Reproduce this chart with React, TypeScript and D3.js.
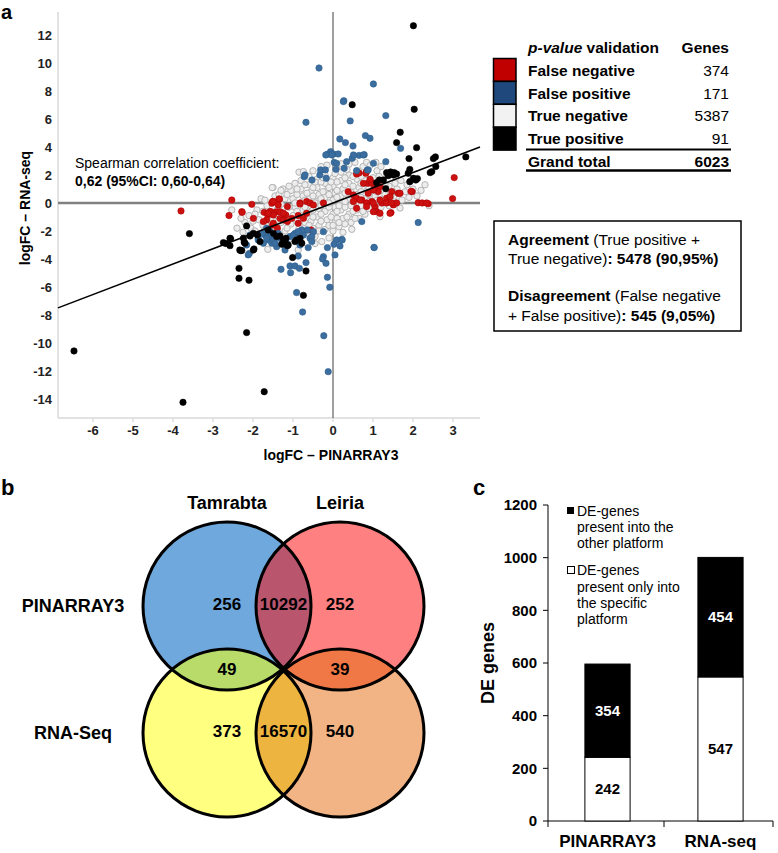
import React from "react";
import * as d3 from "d3";

type Pt = [number, number];

const FONT = "'Liberation Sans', Arial, Helvetica, sans-serif";

// ---------- Panel a data ----------
const xTicksA = [-6, -5, -4, -3, -2, -1, 0, 1, 2, 3];
const yTicksA = [12, 10, 8, 6, 4, 2, 0, -2, -4, -6, -8, -10, -12, -14];
const regSlope = 1.09;
const regIntercept = 0;

const greyPts: Pt[] = [
  [-2.2, -1.4], [-2.1, -0.9], [-2.05, -1.8], [-1.9, -0.5], [-1.85, -1.2], [-1.95, -2.0], [-1.8, 0.3],
  [-1.65, -0.2], [-1.6, -1.0], [-1.55, -1.6], [-1.5, 1.1], [-1.7, 0.2], [-1.6, -2.3], [-1.45, 0.5],
  [-1.35, 0.6], [-1.3, -0.1], [-1.25, -0.7], [-1.3, -1.4], [-1.2, -2.0], [-1.25, 1.0], [-1.35, -2.6],
  [-1.05, 0.9], [-1.0, 0.3], [-0.95, -0.3], [-1.0, -0.9], [-1.05, -1.5], [-0.95, 1.4], [-0.9, -2.1], [-1.1, -2.6],
  [-0.8, 1.6], [-0.8, 1.0], [-0.75, 0.5], [-0.8, 0.0], [-0.75, -0.5], [-0.8, -1.2], [-0.7, -1.7], [-0.8, -2.8], [-0.85, 2.2],
  [-0.6, 1.9], [-0.6, 1.3], [-0.55, 0.8], [-0.6, 0.3], [-0.55, -0.2], [-0.6, -0.7], [-0.55, -1.3], [-0.6, -2.2], [-0.5, 2.3],
  [-0.4, 1.7], [-0.4, 1.1], [-0.35, 0.6], [-0.4, 0.1], [-0.35, -0.4], [-0.4, -1.0], [-0.35, -1.6], [-0.45, -2.4], [-0.3, 2.6],
  [-0.2, 2.0], [-0.2, 1.4], [-0.15, 0.9], [-0.2, 0.4], [-0.15, -0.1], [-0.2, -0.6], [-0.15, -1.2], [-0.2, -1.9], [-0.1, -2.5],
  [0.0, 1.8], [0.0, 1.2], [0.05, 0.7], [0.0, 0.2], [0.05, -0.3], [0.0, -0.8], [0.05, -1.4], [0.0, -2.0], [0.1, 2.4],
  [0.2, 2.2], [0.2, 1.6], [0.25, 1.0], [0.2, 0.5], [0.25, 0.0], [0.2, -0.5], [0.25, -1.1], [0.15, -1.7],
  [0.4, 2.0], [0.4, 1.4], [0.45, 0.8], [0.4, 0.3], [0.45, -0.2], [0.4, -0.8], [0.45, -1.4], [0.47, -1.88],
  [0.6, 2.3], [0.6, 1.7], [0.65, 1.1], [0.6, 0.6], [0.65, 0.0], [0.6, -0.5], [0.65, -1.1],
  [0.8, 2.0], [0.8, 1.4], [0.85, 0.9], [0.8, 0.3], [0.85, -0.3], [0.8, -0.8], [0.75, 2.6],
  [1.0, 1.8], [1.0, 1.2], [1.05, 0.5], [1.0, 0.0], [1.05, -0.5], [1.1, 2.3],
  [1.2, 1.5], [1.2, 0.9], [1.25, 0.3], [1.175, -0.98], [1.2, -0.3],
  [1.4, 1.2], [1.45, 0.5], [1.4, -0.2], [1.35, 2.0],
  [1.6, 1.0], [1.65, 0.3], [1.675, -0.36], [1.7, 1.6],
  [1.8, 0.8], [1.725, 0.21], [1.85, 1.3], [2.0, 1.0], [2.1, 0.5],
  [-1.52, 1.1], [-0.74, 2.24], [0.55, 2.9], [0.4, 2.76], [0.84, 2.9], [1.07, 2.9], [0.925, 2.67],
  [-1.63, -3.31], [-0.87, -3.36], [-0.28, -2.76], [-2.53, -0.5], [2.4, -0.2],
  [-0.9, 0.6], [-0.7, 0.2], [-0.5, 0.5], [-0.3, 0.3], [-0.1, 0.6], [0.1, 0.4], [0.3, 0.7], [0.5, 0.4], [0.7, 0.8], [0.9, 0.6],
  [-0.9, -0.6], [-0.7, -0.9], [-0.5, -0.5], [-0.3, -0.8], [-0.1, -0.3], [0.1, -0.6], [0.3, -0.3], [0.5, 0.1], [0.7, -0.2], [0.9, 0.1],
  [-0.5, 1.1], [-0.3, 1.5], [-0.1, 1.1], [0.1, 1.5], [0.3, 1.3], [0.5, 1.9], [0.7, 1.4],
  [-0.7, -1.4], [-0.5, -1.8], [-0.3, -1.3], [-0.1, -1.6], [0.1, -1.1], [0.3, -1.5], [1.1, 0.8], [1.3, 0.1],
  [-1.1, -0.3], [-1.2, 0.3], [-1.4, -0.5], [-1.5, -1.2], [-1.1, -1.1],
  [-2.3, -1.1], [-2.0, -1.3], [-1.95, -0.8], [-1.75, -1.6], [-1.75, -0.6], [-1.7, -1.9], [-1.45, -1.9], [-1.4, -0.9],
  [-1.4, 0.1], [-1.3, 0.9], [-1.15, -1.8], [-1.15, 0.6], [-1.1, 1.2], [-0.95, 0.0], [-0.9, -1.3], [-0.9, 1.0],
  [-0.85, -1.8], [-0.7, 1.3], [-0.7, -0.3], [-0.65, 0.7], [-0.65, -2.0], [-0.5, -1.0], [-0.45, 0.0], [-0.45, 1.5],
  [-0.35, -2.0], [-0.3, -0.2], [-0.25, 0.8], [-0.25, 1.8], [-0.1, 0.0], [-0.05, 1.5], [-0.05, -1.0], [0.05, 2.1],
  [0.1, 0.9], [0.15, -0.2], [0.15, -1.4], [0.3, 0.1], [0.3, 1.8], [0.35, -1.0], [0.35, 2.4], [0.5, -0.6], [0.5, 1.2],
  [0.55, -1.1], [0.7, 0.4], [0.7, 1.9], [0.75, -0.6], [0.9, 1.1], [0.9, -0.4], [0.95, 1.6], [1.1, 0.2], [1.15, 1.9],
  [1.3, 0.6], [1.3, 1.3], [1.5, 0.1], [1.5, 0.8], [1.55, 1.4], [1.9, 0.4], [1.95, 1.6], [2.2, 0.9], [2.3, 1.3],
  [-0.6, -1.6], [0.0, -1.6], [0.25, -2.1], [-0.45, -2.9], [1.2, 2.6], [0.2, 2.8], [-0.15, 2.7], [-2.4, -1.8], [-2.25, -2.1]
];

const redPts: Pt[] = [
  [3.03, 1.81], [2.99, 0.31], [1.98, 0.81], [2.13, 0.02], [2.23, 0], [2.38, -0.05], [1.47, 0.81], [1.63, 0.69],
  [0.97, 1.45], [1.07, 1.12], [1.18, 1.17], [0.59, 2.07], [0.65, 2.14], [0.84, 2.24], [-2.03, -0.1], [-2.28, -0.62],
  [-1.51, 0.1], [-1.34, 0.26], [-1.575, -0.62], [-1.41, -0.62], [-0.66, 0.1], [-0.575, 0], [1.45, -0.69],
  [-2.53, 0.21], [-2.27, -0.67], [-2.6, -0.9], [-1.99, -1.1], [-1.72, -0.67], [-1.63, -0.86], [-1.66, -1.21],
  [-1.55, -0.62], [-1.49, -0.86], [-1.325, -0.62], [-1.35, 0.29], [-1.53, -0.02], [-1.39, -1.81], [-1.51, -1.57],
  [-1.325, -1.1], [-1.24, -1.21], [-1.18, -0.86], [-1.14, -1.33], [-1.14, -0.26], [-0.825, 0], [-0.49, -0.14],
  [-0.66, -0.74], [-0.87, -0.9], [-0.55, -1.93], [-1.03, -1.1], [0.82, 2.12], [0.87, 1.4], [0.51, 0.57], [0.59, 0.34],
  [0.72, 0.21], [0.84, 0], [0.97, 0.1], [1.05, -0.26], [1.22, 0], [1.09, -0.62], [1.34, 0.34], [1.51, -0.14],
  [1.675, 0.69], [1.95, 0.83], [1.425, -0.74], [0.51, 0.1], [0.38, 0.81], [0.88, 0.69], [1.13, 0.81], [1.01, -0.62],
  [0.97, 1.4], [-3.8, -0.57], [0.925, 1.69], [0.76, 1.4], [1.01, 0.93], [1.175, 0.21], [1.425, 0.45], [1.59, 0],
  [2.34, 0], [0.84, -0.26], [0.675, 0.21], [-1.49, 0.1], [-1.37, -0.14], [-1.62, -0.74], [-1.24, -0.74],
  [-1.74, -1.33], [-1.49, -1.45], [-0.825, -0.07], [-0.24, 0], [-0.74, -1.1], [-0.87, -1.45], [1.34, 0], [1.47, 0],
  [1.01, 0], [1.175, -0.74], [0.59, -0.38]
];

const bluePts: Pt[] = [
  [-0.35, 9.64], [1.01, 8.5], [0.27, 7.3], [0.26, 7.24], [-0.675, 5.76], [0.43, 5.86], [1.32, 6.24], [0.81, 4.81],
  [0.925, 4.62], [0.17, 4.57], [0.31, 4.31], [0.5, 4.07], [1.69, 3.9], [-0.06, 3.67], [-0.14, 3.48], [0.01, 3.5],
  [0.13, 3.5], [0.65, 3.4], [0.78, 3.45], [0.48, 3.19], [0.03, 2.9], [0.09, 2.83], [1.32, 2.95], [-0.17, 1.76],
  [-0.33, 2.0], [-0.31, 2.36], [-0.72, 1.88], [-0.525, 1.64], [-0.19, 2.36], [0.075, 2.4], [0.28, 2.48], [0.59, 2.31],
  [0.86, 2.36], [-0.7, 2.0], [-0.18, 3.43], [-0.03, 3.43], [0.34, 2.95], [0.51, 3.43], [0.76, 3.43], [1.01, 2.83],
  [0.88, 2.36],
  [-1.87, -2.52], [-1.7, -2.29], [-1.62, -2.64], [-1.53, -2.88], [-1.74, -2.88], [-1.41, -3.12], [-1.66, -1.81],
  [-1.575, -2.05], [-1.37, -2.17], [-2.16, -3.0], [-2.09, -3.6], [-1.2, -3.36], [-1.16, -2.88], [-1.075, -2.4],
  [-0.95, -2.17], [-0.825, -3.0], [-0.74, -2.29], [-0.575, -2.52], [-0.49, -2.05], [-0.64, -1.93], [-0.78, -1.93],
  [0.09, -2.64], [0.22, -2.6], [0.05, -3.71], [1.025, -3.17], [-0.24, -3.83], [0.72, -1.33], [2.13, -1.4],
  [-2.12, -3.71], [-1.3, -4.74], [-1.075, -4.5], [-0.95, -4.5], [-1.06, -4.98], [-0.84, -4.67], [-0.675, -4.26],
  [-0.87, -3.79], [-0.91, -6.4], [-0.76, -7.79], [-0.14, -5.31], [-0.08, -6.02], [-0.26, -4.0], [-0.175, -4.31],
  [-0.23, -9.48], [-0.12, -12.05], [-0.14, -3.19], [0.025, -2.95], [0.175, -3.07], [0.23, -2.64], [-0.62, -3.19],
  [1.03, -3.19], [-1.78, -2.17], [-1.575, -2.29], [-1.66, -2.52], [-1.49, -2.64], [-1.45, -2.88], [-1.325, -2.52],
  [-0.99, -2.29], [-0.87, -2.05], [-0.53, -2.4], [-0.53, -2.76], [-0.24, -2.05], [-2.075, -2.29], [-1.87, -2.64]
];

const blackPts: Pt[] = [
  [2.01, 12.66], [2.03, 6.69], [0.48, 7.02], [1.68, 5.05], [1.59, 4.31], [2.09, 3.95], [1.9, 3.17], [2.51, 3.17],
  [2.56, 3.29], [3.32, 3.29], [2.57, 2.6], [2.43, 2.17], [1.92, 2.4], [1.34, 2.17], [1.44, 2.21], [1.53, 2.17],
  [1.59, 2.07], [1.38, 1.95], [1.92, 1.52], [2.07, 1.64], [2.11, 1.74], [1.09, 1.45], [1.16, 1.64], [1.32, 1.02],
  [1.51, 2.0], [1.88, 2.12], [2.01, 1.76], [2.47, 2.24], [1.26, 1.64],
  [-6.475, -10.57], [-3.75, -14.24], [-3.59, -2.19], [-2.16, -1.64], [-2.575, -2.52], [-2.68, -2.9], [-2.575, -3.05],
  [-2.22, -2.81], [-2.31, -3.4], [-1.975, -3.29], [-2.35, -4.67], [-2.35, -5.38], [-2.1, -5.52], [-2.16, -9.26],
  [-1.72, -13.48], [-2.74, -2.83], [-2.56, -2.55], [-2.33, -3.36], [-2.075, -2.36], [-1.99, -2.17], [-1.89, -2.29],
  [-1.825, -2.76], [-1.28, -2.95], [-1.14, -3.05], [-1.175, -2.52], [-0.95, -2.76], [-0.825, -2.52], [-1.325, -2.36],
  [-1.99, -3.36], [-1.62, -1.93], [-2.24, -2.52], [-1.01, -3.9], [-0.675, -4.86], [-0.74, -6.6], [-1.2, -2.88],
  [-1.12, -3.0], [-1.24, -2.64], [-0.78, -2.88], [-0.91, -2.64], [-1.49, -2.17], [-1.41, -2.4], [-2.28, -3.4],
  [-2.2, -2.88]
];

const validationLabels = ["False negative", "False positive", "True negative", "True positive"];
const validationCounts = [374, 171, 5387, 91];
const validationColors = ["#C00000", "#1F497D", "#F2F2F2", "#000000"];
const grandTotal = 6023;

// ---------- Panel b data ----------
const vennCols = ["Tamrabta", "Leiria"];
const vennRows = ["PINARRAY3", "RNA-Seq"];
const vennOnly = [[256, 252], [373, 540]]; // [row][col]
const vennRowShared = [10292, 16570];
const vennColShared = [49, 39];

// ---------- Panel c data ----------
const barCats = ["PINARRAY3", "RNA-seq"];
const onlySpecific = [242, 547];
const inOther = [354, 454];
const barTicks = [0, 200, 400, 600, 800, 1000, 1200];

export default function App() {
  // Panel a scales
  const xA = d3.scaleLinear().domain([-6.875, 3.675]).range([58, 480]);
  const yA = d3.scaleLinear().domain([-15.36, 13.64]).range([418, 12]);
  const [xd0, xd1] = xA.domain();
  const regPath = d3
    .line<number>()
    .x((d) => xA(d))
    .y((d) => yA(regSlope * d + regIntercept))([xd0, xd1]) as string;

  // Panel b geometry
  const vx = d3.scaleOrdinal<number, number>().domain([0, 1]).range([227, 340]);
  const vy = d3.scaleOrdinal<number, number>().domain([0, 1]).range([606, 733]);
  const R = 84;
  const baseColors = [["#6FA8DC", "#FF8080"], ["#FFFF80", "#F2B484"]];

  // Panel c scales
  const yC = d3.scaleLinear().domain([0, 1200]).range([821, 505]);
  const xC = d3.scaleBand<string>().domain(barCats).range([551, 777]);
  const bw = xC.bandwidth() * 0.4;

  const dot = (fill: string, stroke: string, r: number, sw: number) => (p: Pt, i: number) => (
    <circle key={i} cx={xA(p[0])} cy={yA(p[1])} r={r} fill={fill} stroke={stroke} strokeWidth={sw} />
  );

  const rowBase = (i: number) => 76 + i * 22.7;

  return (
    <svg
      width={778}
      height={853}
      style={{ position: "absolute", left: 0, top: 0, background: "#fff" }}
      fontFamily={FONT}
    >
      {/* ================= Panel a ================= */}
      <text x={1} y={18.5} fontSize={20} fontWeight="bold">a</text>

      {/* axes */}
      <line x1={58} x2={58} y1={12} y2={418} stroke="#d9d9d9" strokeWidth={1.5} />
      <line x1={58} x2={480} y1={418} y2={418} stroke="#d9d9d9" strokeWidth={1.5} />
      {xTicksA.map((t) => (
        <g key={t}>
          <line x1={xA(t)} x2={xA(t)} y1={418} y2={422} stroke="#d9d9d9" strokeWidth={1.2} />
          <text x={xA(t)} y={435} fontSize={13} fontWeight="bold" textAnchor="middle" fill="#222">{t}</text>
        </g>
      ))}
      {yTicksA.map((t) => (
        <text key={t} x={52} y={yA(t)} dy="0.35em" fontSize={13} fontWeight="bold" textAnchor="end" fill="#222">{t}</text>
      ))}
      <text x={331} y={460} fontSize={14} fontWeight="bold" textAnchor="middle">logFC – PINARRAY3</text>
      <text transform="translate(30,208) rotate(-90)" fontSize={14} fontWeight="bold" textAnchor="middle">logFC – RNA-seq</text>

      {/* zero lines */}
      <line x1={xA(0)} x2={xA(0)} y1={12} y2={418} stroke="#404040" strokeWidth={1} />
      <line x1={58} x2={480} y1={yA(0)} y2={yA(0)} stroke="#808080" strokeWidth={2.5} />

      {/* points */}
      <g>{greyPts.map(dot("#EDEDED", "#B5B5B5", 3.2, 1))}</g>
      <g>{redPts.map(dot("#CC1111", "#B00000", 3.2, 0.6))}</g>
      <g>{bluePts.map(dot("#3B6E9E", "#2E5F8E", 3.2, 0.6))}</g>
      <g>{blackPts.map(dot("#000", "#000", 3.2, 0.6))}</g>

      <path d={regPath} stroke="#000" strokeWidth={1.6} fill="none" />

      <text x={75} y={168} fontSize={14}>Spearman correlation coefficient:</text>
      <text x={75} y={186} fontSize={14} fontWeight="bold">0,62 (95%CI: 0,60-0,64)</text>

      {/* validation table */}
      <text x={528} y={53} fontSize={15.5} fontWeight="bold">
        <tspan fontStyle="italic">p-value</tspan> validation
      </text>
      <text x={729} y={53} fontSize={15.5} fontWeight="bold" textAnchor="end">Genes</text>
      {validationLabels.map((lab, i) => (
        <g key={lab}>
          <rect x={493.5} y={58.5 + i * 22.9} width={22.5} height={22.9} fill={validationColors[i]} stroke="#000" strokeWidth={1.5} />
          <text x={528} y={rowBase(i)} fontSize={15.5} fontWeight="bold">{lab}</text>
          <text x={729} y={rowBase(i)} fontSize={15.5} textAnchor="end">{validationCounts[i]}</text>
        </g>
      ))}
      <line x1={526} x2={731} y1={149.5} y2={149.5} stroke="#000" strokeWidth={1.8} />
      <text x={528} y={rowBase(4)} fontSize={15.5} fontWeight="bold">Grand total</text>
      <text x={729} y={rowBase(4)} fontSize={15.5} fontWeight="bold" textAnchor="end">{grandTotal}</text>
      <line x1={526} x2={731} y1={170.5} y2={170.5} stroke="#000" strokeWidth={2.5} />

      {/* agreement box */}
      <rect x={494} y={221} width={247} height={110} fill="#fff" stroke="#000" strokeWidth={1.5} />
      <text x={508} y={244.5} fontSize={15.5}>
        <tspan fontWeight="bold">Agreement</tspan> (True positive +
      </text>
      <text x={508} y={263.5} fontSize={15.5}>
        True negative)<tspan fontWeight="bold">: 5478 (90,95%)</tspan>
      </text>
      <text x={508} y={300.5} fontSize={15.5}>
        <tspan fontWeight="bold">Disagreement</tspan> (False negative
      </text>
      <text x={508} y={320.5} fontSize={15.5}>
        + False positive)<tspan fontWeight="bold">: 545 (9,05%)</tspan>
      </text>

      {/* ================= Panel b ================= */}
      <text x={1} y={495} fontSize={22} fontWeight="bold">b</text>
      <defs>
        {[0, 1].map((r) =>
          [0, 1].map((c) => (
            <clipPath key={`c${r}${c}`} id={`vc${r}${c}`}>
              <circle cx={vx(c)} cy={vy(r)} r={R} />
            </clipPath>
          ))
        )}
      </defs>
      {[0, 1].map((r) =>
        [0, 1].map((c) => (
          <circle key={`f${r}${c}`} cx={vx(c)} cy={vy(r)} r={R} fill={baseColors[r][c]} />
        ))
      )}
      {/* lenses */}
      <circle cx={vx(1)} cy={vy(0)} r={R} fill="#BA556E" clipPath="url(#vc00)" />
      <circle cx={vx(0)} cy={vy(1)} r={R} fill="#B8DB6A" clipPath="url(#vc00)" />
      <circle cx={vx(1)} cy={vy(1)} r={R} fill="#F07846" clipPath="url(#vc01)" />
      <circle cx={vx(1)} cy={vy(1)} r={R} fill="#EEB440" clipPath="url(#vc10)" />
      {[0, 1].map((r) =>
        [0, 1].map((c) => (
          <circle key={`s${r}${c}`} cx={vx(c)} cy={vy(r)} r={R} fill="none" stroke="#000" strokeWidth={3} />
        ))
      )}
      {vennCols.map((n, c) => (
        <text key={n} x={vx(c)} y={509} fontSize={18} fontWeight="bold" textAnchor="middle">{n}</text>
      ))}
      {vennRows.map((n, r) => (
        <text key={n} x={73} y={vy(r)} dy="0.35em" fontSize={18} fontWeight="bold" textAnchor="middle">{n}</text>
      ))}
      {[0, 1].map((r) => (
        <g key={`n${r}`}>
          {[0, 1].map((c) => (
            <text key={c} x={vx(c)} y={vy(r) - 2} dy="0.35em" fontSize={17} fontWeight="bold" textAnchor="middle">{vennOnly[r][c]}</text>
          ))}
          <text x={(vx(0) + vx(1)) / 2} y={vy(r) - 2} dy="0.35em" fontSize={17} fontWeight="bold" textAnchor="middle">{vennRowShared[r]}</text>
        </g>
      ))}
      {[0, 1].map((c) => (
        <text key={`cs${c}`} x={vx(c)} y={(vy(0) + vy(1)) / 2} dy="0.35em" fontSize={17} fontWeight="bold" textAnchor="middle">{vennColShared[c]}</text>
      ))}

      {/* ================= Panel c ================= */}
      <text x={473} y={495} fontSize={22} fontWeight="bold">c</text>
      <line x1={548} x2={548} y1={yC(1200)} y2={yC(0)} stroke="#000" strokeWidth={1} />
      {barTicks.map((t) => (
        <g key={t}>
          <line x1={543} x2={548} y1={yC(t)} y2={yC(t)} stroke="#000" strokeWidth={1} />
          <text x={537} y={yC(t)} dy="0.35em" fontSize={15} fontWeight="bold" textAnchor="end">{t}</text>
        </g>
      ))}
      <line x1={548} x2={773} y1={yC(0)} y2={yC(0)} stroke="#000" strokeWidth={1} />
      {[548, xC(barCats[1]) as number, 773].map((tx, i) => (
        <line key={i} x1={tx} x2={tx} y1={yC(0)} y2={yC(0) + 6} stroke="#000" strokeWidth={1} />
      ))}
      <text transform="translate(494,663) rotate(-90)" fontSize={18} fontWeight="bold" textAnchor="middle">DE genes</text>
      {barCats.map((c, i) => {
        const bx = (xC(c) as number) + (xC.bandwidth() - bw) / 2;
        const cx = bx + bw / 2;
        const a = onlySpecific[i];
        const b = inOther[i];
        return (
          <g key={c}>
            <rect x={bx} y={yC(a)} width={bw} height={yC(0) - yC(a)} fill="#fff" stroke="#000" strokeWidth={1} />
            <rect x={bx} y={yC(a + b)} width={bw} height={yC(a) - yC(a + b)} fill="#000" stroke="#000" strokeWidth={1} />
            <text x={cx} y={(yC(0) + yC(a)) / 2} dy="0.35em" fontSize={15} fontWeight="bold" textAnchor="middle">{a}</text>
            <text x={cx} y={(yC(a) + yC(a + b)) / 2} dy="0.35em" fontSize={15} fontWeight="bold" textAnchor="middle" fill="#fff">{b}</text>
            <text x={cx} y={847} fontSize={17} fontWeight="bold" textAnchor="middle">{c}</text>
          </g>
        );
      })}
      {/* legend */}
      <rect x={567} y={507} width={7} height={7} fill="#000" />
      <text fontSize={14} x={577}>
        <tspan x={577} y={516}>DE-genes</tspan>
        <tspan x={577} y={532}>present into the</tspan>
        <tspan x={577} y={548}>other platform</tspan>
      </text>
      <rect x={567.5} y={566.5} width={7} height={7} fill="#fff" stroke="#000" strokeWidth={1} />
      <text fontSize={14} x={577}>
        <tspan x={577} y={575}>DE-genes</tspan>
        <tspan x={577} y={592}>present only into</tspan>
        <tspan x={577} y={608}>the specific</tspan>
        <tspan x={577} y={624}>platform</tspan>
      </text>
    </svg>
  );
}
